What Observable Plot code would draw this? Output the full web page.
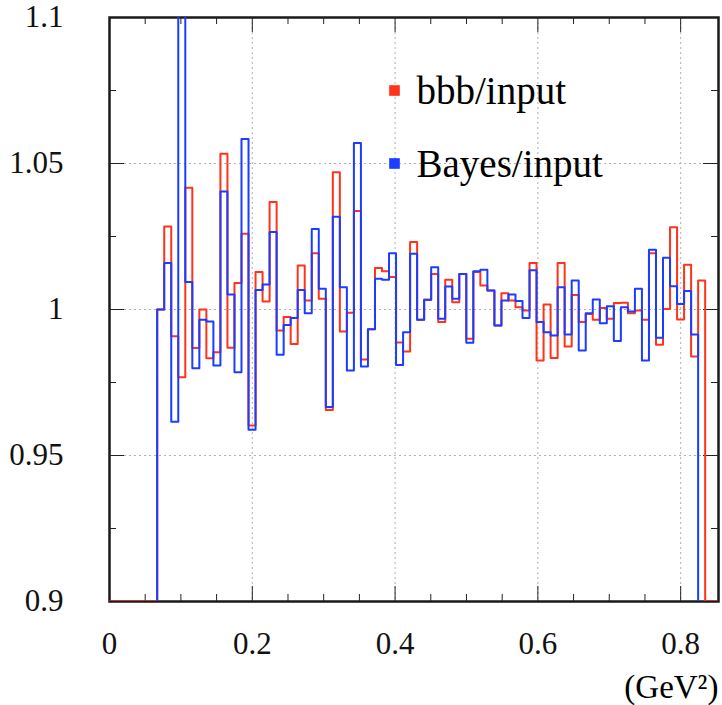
<!DOCTYPE html>
<html><head><meta charset="utf-8">
<script src="https://cdn.jsdelivr.net/npm/d3@7"></script>
<script src="https://cdn.jsdelivr.net/npm/@observablehq/plot@0.6"></script>
<style>
body{margin:0;background:#fff}
#chart svg text{font-family:'Liberation Serif','Times New Roman',serif !important;font-variant:normal !important}
</style>
</head><body><div id="chart"></div>
<script>
// histogram binning (GeV^2)
const binStart = 0.0668;
const binWidth = 0.00984;

// bbb/input ratio per bin
const bbbValues = [
  1.000, 1.0284, 0.9908, 0.9768, 1.0417, 0.9868, 1.000, 0.9833, 0.9854, 1.0533,
  0.9869, 1.0091, 1.0259, 0.9603, 1.0128, 1.0027, 1.0368, 0.9928, 0.9974, 0.9882,
  1.0151, 1.0031, 1.0193, 1.0037, 0.9656, 1.0470, 0.9925, 0.9989, 1.0337, 0.9829,
  0.9932, 1.0142, 1.0131, 1.0111, 0.9887, 0.9856, 1.0231, 0.9965, 1.0033, 1.0122,
  0.9957, 1.0102, 1.0025, 1.0122, 0.9900, 1.0128, 1.0082, 1.0065, 0.9945, 1.0056,
  1.0031, 1.0008, 0.9997, 1.0159, 0.9825, 1.0017, 0.9834, 1.0159, 0.9873, 1.0050,
  0.9957, 0.9985, 0.9965, 1.0005, 0.9968, 1.0022, 1.0023, 0.9987, 0.9997, 0.9965,
  1.0193, 0.9879, 1.0002, 1.0282, 0.9966, 1.0153, 0.9839, 1.0099
];

// Bayes/input ratio per bin
const bayesValues = [
  1.000, 1.0159, 0.9616, 1.1300, 1.0094, 0.9799, 0.9965, 0.9959, 0.9808, 1.0404,
  1.0051, 0.9785, 1.0584, 0.9588, 1.0067, 1.0086, 1.0265, 0.9845, 0.9947, 0.9971,
  1.0067, 0.9987, 1.0276, 1.0071, 0.9666, 1.0318, 1.0076, 0.9791, 1.0570, 0.9805,
  0.9932, 1.0105, 1.0102, 1.0193, 0.9810, 0.9922, 1.0191, 0.9965, 1.0033, 1.0145,
  0.9968, 1.0079, 1.0037, 1.0122, 0.9886, 1.0131, 1.0136, 1.0065, 0.9945, 1.0031,
  1.0051, 1.0029, 0.9971, 1.0134, 0.9957, 0.9922, 0.9911, 1.0076, 0.9914, 1.0099,
  0.9860, 0.9987, 1.0034, 0.9953, 1.0011, 0.9892, 1.0008, 0.9993, 1.0071, 0.9825,
  1.0205, 0.9903, 1.0177, 1.0080, 1.0019, 1.0063, 0.9914
];

const xTicks = [0, 0.2, 0.4, 0.6, 0.8];
const yTicks = [0.9, 0.95, 1, 1.05, 1.1];
const xGrid = [0.2, 0.4, 0.6, 0.8];
const yGrid = [0.95, 1, 1.05];
const xMinorTicks = [0.05, 0.1, 0.15, 0.25, 0.3, 0.35, 0.45, 0.5, 0.55, 0.65, 0.7, 0.75];
const yMinorTicks = [0.925, 0.975, 1.025, 1.075];
const legendLabels = ["bbb/input", "Bayes/input"];
const seriesColors = ["#ff3319", "#1a3dff"];
const xAxisLabel = "(GeV\u00B2)";

const xMax = 0.853, yMin = 0.9, yMax = 1.1;
const W = 722, H = 705;
const mL = 109, mR = 4, mT = 17, mB = 104;
const innerW = W - mL - mR, innerH = H - mT - mB;
const fmt = d3.format("~g");

function stepPoints(values, padLeft, padRight) {
  const pts = [];
  pts.push({x: padLeft ? 0 : binStart, y: yMin});
  values.forEach((v, i) => pts.push({x: binStart + i * binWidth, y: Math.max(yMin, v)}));
  const end = binStart + values.length * binWidth;
  pts.push({x: end, y: yMin});
  if (padRight) pts.push({x: xMax, y: yMin});
  return pts;
}

const redPts = stepPoints(bbbValues, true, true);
const bluePts = stepPoints(bayesValues, false, false);

const grid = {stroke: "#b0b0b0", strokeWidth: 1, strokeDasharray: "2,3"};
const tk = {stroke: "#222", strokeWidth: 1};
const serif = "'Liberation Serif', 'Times New Roman', serif";

const chart = Plot.plot({
  width: W, height: H,
  marginLeft: mL, marginRight: mR, marginTop: mT, marginBottom: mB,
  style: {fontFamily: serif, fontSize: "31px", color: "#111", background: "#fff"},
  x: {domain: [0, xMax], ticks: xTicks, tickFormat: fmt, tickSize: 0, tickPadding: 30, label: null},
  y: {domain: [yMin, yMax], ticks: yTicks, tickFormat: fmt, tickSize: 0, tickPadding: 46, label: null},
  marks: [
    Plot.ruleX(xGrid, {x: d => d, ...grid}),
    Plot.ruleY(yGrid, {y: d => d, ...grid}),
    Plot.frame({stroke: "#1a1a1a", strokeWidth: 2.5}),
    // bottom & top ticks
    Plot.ruleX(xMinorTicks, {x: d => d, insetTop: innerH - 7, ...tk}),
    Plot.ruleX(xMinorTicks, {x: d => d, insetBottom: innerH - 7, ...tk}),
    Plot.ruleX(xGrid, {x: d => d, insetTop: innerH - 15, ...tk}),
    Plot.ruleX(xGrid, {x: d => d, insetBottom: innerH - 15, ...tk}),
    // left & right ticks
    Plot.ruleY(yMinorTicks, {y: d => d, insetRight: innerW - 7, ...tk}),
    Plot.ruleY(yMinorTicks, {y: d => d, insetLeft: innerW - 7, ...tk}),
    Plot.ruleY(yGrid, {y: d => d, insetRight: innerW - 15, ...tk}),
    Plot.ruleY(yGrid, {y: d => d, insetLeft: innerW - 15, ...tk}),
    // histograms
    Plot.line(redPts, {x: "x", y: "y", curve: "step-after", stroke: seriesColors[0], strokeWidth: 2, clip: true}),
    Plot.line(bluePts, {x: "x", y: "y", curve: "step-after", stroke: seriesColors[1], strokeWidth: 2, clip: true}),
    // legend
    Plot.dot([legendLabels[0]], {frameAnchor: "top-left", dx: 285, dy: 73, symbol: "square", r: 6, fill: seriesColors[0], stroke: null}),
    Plot.dot([legendLabels[1]], {frameAnchor: "top-left", dx: 285, dy: 146, symbol: "square", r: 6, fill: seriesColors[1], stroke: null}),
    Plot.text([legendLabels[0]], {text: d => d, frameAnchor: "top-left", dx: 307, dy: 74, textAnchor: "start", lineAnchor: "middle", fontSize: 39, fill: "#000"}),
    Plot.text([legendLabels[1]], {text: d => d, frameAnchor: "top-left", dx: 307, dy: 147.5, textAnchor: "start", lineAnchor: "middle", fontSize: 39, fill: "#000"}),
    // axis unit label
    Plot.text([xAxisLabel], {text: d => d, frameAnchor: "bottom-right", dx: 0, dy: 86, textAnchor: "end", lineAnchor: "middle", fontSize: 33, fill: "#000"})
  ]
});
document.getElementById("chart").appendChild(chart);
</script>
</body></html>
